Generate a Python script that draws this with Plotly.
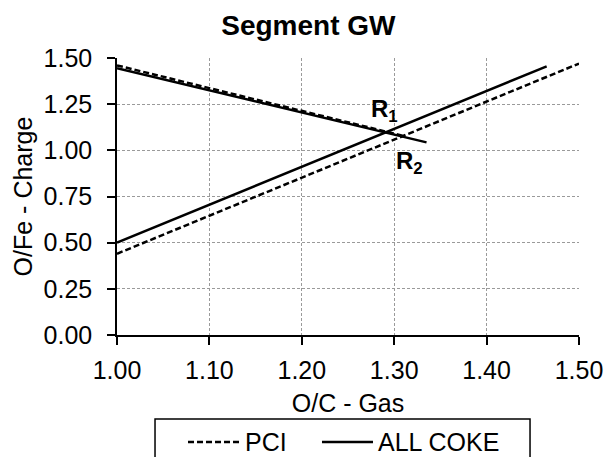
import plotly.graph_objects as go

# Operating lines of segment GW (O/C gas vs O/Fe charge)
pci_rise_x = [1.00, 1.50]
pci_rise_y = [0.44, 1.47]
pci_fall_x = [1.00, 1.31]
pci_fall_y = [1.46, 1.078]

coke_rise_x = [1.00, 1.465]
coke_rise_y = [0.50, 1.455]
coke_fall_x = [1.00, 1.335]
coke_fall_y = [1.445, 1.043]

# Operating points
point_names = ["R<sub>1</sub>", "R<sub>2</sub>"]
point_x = [1.29, 1.317]
point_y = [1.215, 0.935]

x_ticks = [1.00, 1.10, 1.20, 1.30, 1.40, 1.50]
y_ticks = [0.00, 0.25, 0.50, 0.75, 1.00, 1.25, 1.50]

series_names = ["PCI", "ALL COKE"]
series_dash = ["6px,3px", "solid"]

FONT = "Liberation Sans, Arial, sans-serif"
FS = 25

fig = go.Figure()

fig.add_trace(go.Scatter(
    x=pci_rise_x + [None] + pci_fall_x,
    y=pci_rise_y + [None] + pci_fall_y,
    mode="lines", name=series_names[0], showlegend=False,
    line=dict(color="black", width=2.5, dash=series_dash[0]),
))
fig.add_trace(go.Scatter(
    x=coke_rise_x + [None] + coke_fall_x,
    y=coke_rise_y + [None] + coke_fall_y,
    mode="lines", name=series_names[1], showlegend=False,
    line=dict(color="black", width=2.5, dash=series_dash[1]),
))

for name, px, py in zip(point_names, point_x, point_y):
    fig.add_annotation(
        x=px, y=py, text=f"<b>{name}</b>", showarrow=False,
        font=dict(family=FONT, size=24, color="black"),
    )

# Legend box below the x-axis title (paper coordinates)
fig.add_shape(type="rect", xref="paper", yref="paper",
              x0=0.0823, x1=0.894, y0=-0.49, y1=-0.3033,
              line=dict(color="black", width=1.5), fillcolor="white")
legend_sample_x = [(0.1537, 0.2662), (0.4437, 0.5541)]
legend_text_x = [0.2727, 0.5606]
legend_y = -0.386
for name, dash, (sx0, sx1), tx in zip(series_names, series_dash, legend_sample_x, legend_text_x):
    fig.add_shape(type="line", xref="paper", yref="paper",
                  x0=sx0, x1=sx1, y0=legend_y, y1=legend_y,
                  line=dict(color="black", width=2.5, dash=dash))
    fig.add_annotation(xref="paper", yref="paper", x=tx, y=legend_y,
                       xanchor="left", yanchor="middle", text=name, showarrow=False,
                       font=dict(family=FONT, size=FS, color="black"))

axis_common = dict(
    showgrid=True, gridcolor="#9a9a9a", gridwidth=1, griddash="3px,2px",
    showline=True, linecolor="black", linewidth=1.5,
    ticks="outside", ticklen=8, tickwidth=1.5, tickcolor="black",
    tickformat=".2f", zeroline=False,
    tickfont=dict(family=FONT, size=FS, color="black"),
)

fig.update_xaxes(
    range=[1.0, 1.5], tickvals=x_ticks, ticklabelstandoff=4,
    title=dict(text="O/C - Gas", font=dict(family=FONT, size=FS, color="black"), standoff=12),
    **axis_common,
)
fig.update_yaxes(
    range=[0.0, 1.5], tickvals=y_ticks, ticklabelstandoff=10,
    title=dict(text="O/Fe - Charge", font=dict(family=FONT, size=FS, color="black"), standoff=4),
    **axis_common,
)

fig.update_layout(
    width=607, height=457,
    margin=dict(l=117, r=28, t=58, b=122, autoexpand=False),
    paper_bgcolor="white", plot_bgcolor="white",
    title=dict(text="<b>Segment GW</b>", x=0.508, xref="container", xanchor="center",
               y=0.945, yref="container", yanchor="middle",
               font=dict(family=FONT, size=28, color="black")),
    showlegend=False,
)

fig.write_html("out.html")
